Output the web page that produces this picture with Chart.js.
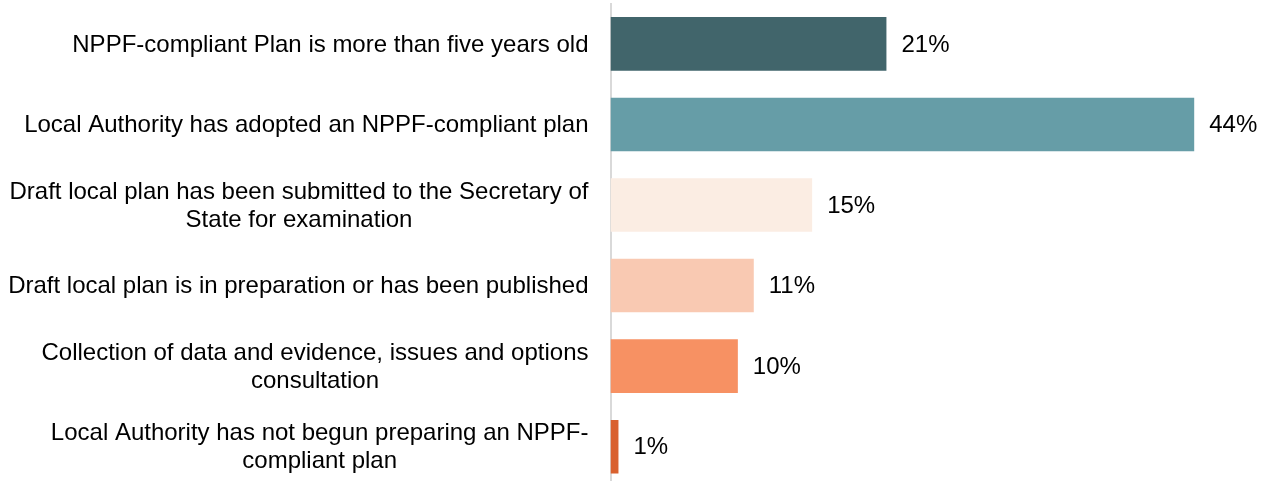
<!DOCTYPE html>
<html>
<head>
<meta charset="utf-8">
<script src="https://cdn.jsdelivr.net/npm/chart.js@4/dist/chart.umd.min.js"></script>
<style>
  html, body { margin: 0; padding: 0; background: #fff; overflow: hidden; }
  #wrap { position: relative; width: 1271px; height: 487px; }
</style>
</head>
<body>
<div id="wrap"><canvas id="stageChart"></canvas></div>
<script>
// Categories (each entry is the wrapped lines of one label)
const categories = [
  ['NPPF-compliant Plan is more than five years old'],
  ['Local Authority has adopted an NPPF-compliant plan'],
  ['Draft local plan has been submitted to the Secretary of', 'State for examination'],
  ['Draft local plan is in preparation or has been published'],
  ['Collection of data and evidence, issues and options', 'consultation'],
  ['Local Authority has not begun preparing an NPPF-', 'compliant plan']
];

// Share of local authorities (%)
const shares = [20.8, 44.0, 15.2, 10.8, 9.6, 0.6];

// Labels printed next to bars
const shareLabels = ['21%', '44%', '15%', '11%', '10%', '1%'];

const barColors = ['#41656B', '#669DA7', '#FBEDE3', '#F9C9B2', '#F79163', '#D9612F'];

const FONT = '24px "Liberation Sans", Arial, sans-serif';

// Draw the category labels (centred lines, block right-aligned) and value labels
const labelPlugin = {
  id: 'labelPlugin',
  afterDraw(chart) {
    const ctx = chart.ctx;
    const yScale = chart.scales.y;
    const meta = chart.getDatasetMeta(0);
    const lineH = 28;
    ctx.save();
    ctx.font = FONT;
    ctx.fillStyle = '#000';
    ctx.textBaseline = 'middle';

    // category labels
    const rightEdge = yScale.right - 22;
    categories.forEach((lines, i) => {
      const y = yScale.getPixelForTick(i) + 1;
      const w = Math.max(...lines.map(l => ctx.measureText(l).width));
      const cx = rightEdge - w / 2;
      ctx.textAlign = 'center';
      lines.forEach((l, j) => {
        ctx.fillText(l, cx, y + (j - (lines.length - 1) / 2) * lineH);
      });
    });

    // value labels
    ctx.textAlign = 'left';
    meta.data.forEach((bar, i) => {
      ctx.fillText(shareLabels[i], bar.x + 15, bar.y + 1);
    });
    ctx.restore();
  }
};

const ctx = document.getElementById('stageChart').getContext('2d');

new Chart(ctx, {
  type: 'bar',
  data: {
    labels: categories,
    datasets: [{
      data: shares,
      backgroundColor: barColors,
      borderWidth: 0,
      categoryPercentage: 1,
      barPercentage: 0.665
    }]
  },
  options: {
    indexAxis: 'y',
    responsive: true,
    maintainAspectRatio: false,
    animation: false,
    layout: { padding: { top: 3.6, right: 37, bottom: 0, left: 0 } },
    plugins: {
      legend: { display: false },
      tooltip: { enabled: false }
    },
    scales: {
      x: {
        display: false,
        min: 0,
        max: 47
      },
      y: {
        ticks: { display: false },
        grid: { display: false },
        border: { display: true, color: '#D9D9D9', width: 2 },
        afterFit(scale) { scale.width = 610.5; }
      }
    }
  },
  plugins: [labelPlugin]
});
</script>
</body>
</html>
